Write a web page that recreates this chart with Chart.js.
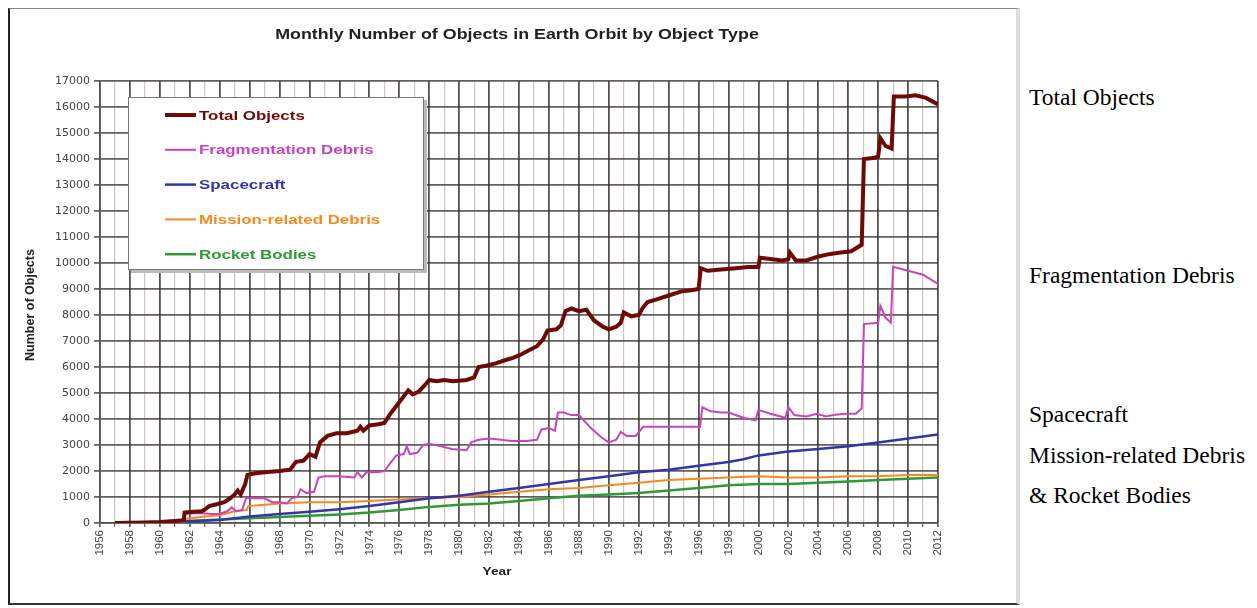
<!DOCTYPE html>
<html>
<head>
<meta charset="utf-8">
<script src="https://cdn.jsdelivr.net/npm/chart.js@4/dist/chart.umd.min.js"></script>
<style>
  html, body { margin: 0; padding: 0; background: #fff; width: 1257px; height: 608px; overflow: hidden; }
  #wrap { position: absolute; left: 0; top: 0; width: 1020px; height: 608px; }
  #frame { position: absolute; left: 8px; top: 8px; width: 1006px; height: 594px;
    border-left: 2px solid #222; border-top: 1px solid #888; border-right: 4px solid #ddd; border-bottom: 2px solid #333; pointer-events: none; }
  .side { position: absolute; left: 1029px; font-family: "Liberation Serif", "Times New Roman", serif; font-size: 23.5px; line-height: 24px; color: #000; white-space: nowrap; }
</style>
</head>
<body>
<div id="wrap"><canvas id="c" width="1020" height="608"></canvas></div>
<div id="frame"></div>
<div class="side" style="top:85px">Total Objects</div>
<div class="side" style="top:263px">Fragmentation Debris</div>
<div class="side" style="top:402px">Spacecraft</div>
<div class="side" style="top:443px">Mission-related Debris</div>
<div class="side" style="top:483px">&amp; Rocket Bodies</div>
<script>
const chartTitle = "Monthly Number of Objects in Earth Orbit by Object Type";
const xTitle = "Year";
const yTitle = "Number of Objects";
const seriesNames = ["Total Objects", "Fragmentation Debris", "Spacecraft", "Mission-related Debris", "Rocket Bodies"];

const totalYears = [1957,1958,1959,1960,1961,1961.6,1961.65,1962,1962.8,1963,1963.3,1963.8,1964.3,1964.7,1965,1965.2,1965.4,1965.7,1965.85,1966.3,1967,1968,1968.7,1969.1,1969.6,1970,1970.4,1970.7,1971.2,1971.8,1972.5,1973.2,1973.4,1973.6,1974,1974.6,1975,1975.4,1975.8,1976.2,1976.6,1976.9,1977.3,1977.7,1978,1978.5,1979,1979.6,1980.5,1981,1981.3,1981.8,1982.5,1983,1983.6,1984.2,1984.7,1985.2,1985.6,1985.9,1986.5,1986.8,1987.1,1987.5,1988,1988.5,1989,1989.6,1990,1990.5,1990.8,1991,1991.5,1992,1992.3,1992.6,1993.2,1994,1994.8,1995.5,1996,1996.15,1996.6,1997.5,1998.5,1999.3,2000,2000.1,2000.8,2001.6,2002,2002.1,2002.5,2003.2,2004,2004.8,2005.5,2006.2,2006.9,2007.05,2007.8,2008,2008.15,2008.5,2008.9,2009.05,2009.8,2010.5,2011.2,2012];
const totalValues = [0,10,20,40,80,110,400,420,450,520,650,720,800,950,1100,1250,1100,1500,1850,1900,1950,2000,2050,2350,2400,2650,2550,3100,3350,3450,3450,3550,3700,3550,3750,3800,3850,4200,4500,4800,5100,4950,5050,5300,5500,5450,5500,5450,5500,5600,6000,6050,6150,6250,6350,6500,6650,6800,7050,7400,7450,7600,8150,8250,8150,8200,7800,7550,7450,7550,7700,8100,7950,8000,8300,8500,8600,8750,8900,8950,9000,9800,9700,9750,9800,9850,9850,10200,10150,10100,10150,10400,10100,10100,10250,10350,10400,10450,10700,14000,14050,14100,14800,14500,14400,16400,16400,16450,16350,16100];

const fragYears = [1957,1961.6,1961.65,1962.5,1963.5,1964,1964.5,1964.8,1965.1,1965.5,1965.75,1966.5,1967,1967.5,1968,1968.5,1968.8,1969.2,1969.4,1969.8,1970.3,1970.6,1971,1972,1973,1973.2,1973.5,1973.8,1974.5,1975,1975.4,1975.8,1976.3,1976.5,1976.7,1977.2,1977.6,1978,1978.8,1979.5,1980.5,1980.8,1981.3,1982,1982.8,1983.5,1984.5,1985.2,1985.5,1986,1986.4,1986.6,1987,1987.5,1988,1988.8,1989.5,1990,1990.5,1990.8,1991.2,1991.8,1992.3,1993,1994,1995,1996.1,1996.25,1996.8,1997.5,1998,1999,1999.8,2000,2000.8,2001.8,2002,2002.4,2003.2,2003.9,2004.5,2005,2005.8,2006.5,2006.9,2007.05,2008,2008.15,2008.5,2008.85,2009,2010,2011,2012];
const fragValues = [0,0,350,380,350,350,450,600,450,500,950,950,950,800,800,750,950,1000,1300,1150,1200,1750,1800,1800,1750,1950,1750,1950,1950,2000,2300,2600,2650,2950,2650,2700,3000,3050,2950,2850,2800,3100,3200,3250,3200,3150,3150,3200,3600,3650,3550,4250,4250,4150,4150,3650,3300,3100,3200,3500,3350,3350,3700,3700,3700,3700,3700,4450,4300,4250,4250,4050,3950,4350,4200,4050,4450,4150,4100,4200,4100,4150,4200,4200,4400,7650,7700,8350,7900,7700,9850,9700,9550,9200];

const scYears = [1957,1960,1962,1964,1966,1968,1970,1972,1974,1976,1978,1980,1982,1984,1986,1988,1990,1992,1994,1996,1998,1999,2000,2002,2004,2006,2008,2010,2012];
const scValues = [0,30,70,120,250,350,430,530,650,800,950,1050,1200,1350,1500,1650,1800,1950,2050,2200,2350,2450,2600,2750,2850,2950,3100,3250,3400];

const mrdYears = [1957,1961,1961.7,1963,1964,1965,1965.8,1965.9,1967,1968,1970,1972,1974,1976,1978,1980,1982,1984,1986,1988,1990,1992,1994,1996,1998,2000,2002,2004,2006,2008,2010,2012];
const mrdValues = [0,40,150,250,300,450,500,650,700,750,800,800,850,900,950,1000,1100,1200,1300,1350,1450,1550,1650,1700,1750,1800,1750,1750,1800,1800,1850,1850];

const rbYears = [1957,1960,1962,1964,1966,1968,1970,1972,1974,1976,1978,1980,1982,1984,1986,1988,1990,1992,1994,1996,1998,2000,2002,2004,2006,2008,2010,2012];
const rbValues = [0,30,80,130,180,230,280,330,400,500,620,700,750,850,950,1050,1100,1150,1250,1350,1450,1500,1500,1550,1600,1650,1700,1750];

const yearMin = 1956, yearMax = 2012;
const yMax = 17000, yStep = 1000;

const colors = ["#6e0a06", "#c843c0", "#3535a8", "#f58a1f", "#2f9a35"];
const widths = [4, 2, 2.5, 2, 2.5];

function pts(xs, ys) { return xs.map((x, i) => ({ x: x, y: ys[i] })); }
const seriesData = [pts(totalYears, totalValues), pts(fragYears, fragValues), pts(scYears, scValues), pts(mrdYears, mrdValues), pts(rbYears, rbValues)];

const decor = {
  id: 'decor',
  afterDatasetsDraw(chart) {
    const ctx = chart.ctx;
    ctx.save();
    ctx.fillStyle = '#bbb';
    ctx.fillRect(131, 100, 296, 173);
    ctx.fillStyle = '#fff';
    ctx.fillRect(128, 97, 296, 173);
    ctx.strokeStyle = '#777';
    ctx.lineWidth = 1;
    ctx.strokeRect(128.5, 97.5, 295, 172);
    chart.data.datasets.forEach((ds, i) => {
      const y = 115 + i * 34.8;
      ctx.strokeStyle = ds.borderColor;
      ctx.lineWidth = ds.borderWidth;
      ctx.beginPath(); ctx.moveTo(165, y); ctx.lineTo(196, y); ctx.stroke();
      ctx.save();
      ctx.translate(199, y);
      ctx.scale(1.3, 1);
      ctx.fillStyle = ds.borderColor;
      ctx.font = 'bold 13px "Liberation Sans", Arial, sans-serif';
      ctx.textBaseline = 'middle';
      ctx.fillText(ds.label, 0, 1);
      ctx.restore();
    });
    ctx.restore();
  },
  afterDraw(chart) {
    const ctx = chart.ctx;
    ctx.save();
    ctx.fillStyle = '#222';
    ctx.textAlign = 'center';
    ctx.textBaseline = 'middle';
    ctx.save();
    ctx.translate(517, 35);
    ctx.scale(1.19, 1);
    ctx.font = 'bold 15px "Liberation Sans", Arial, sans-serif';
    ctx.fillText(chartTitle, 0, 0);
    ctx.restore();
    ctx.save();
    ctx.translate(497, 572);
    ctx.scale(1.25, 1);
    ctx.font = 'bold 11px "Liberation Sans", Arial, sans-serif';
    ctx.fillText(xTitle, 0, 0);
    ctx.restore();
    ctx.save();
    ctx.translate(31, 305);
    ctx.rotate(-Math.PI / 2);
    ctx.font = 'bold 12.5px "Liberation Sans", Arial, sans-serif';
    ctx.fillText(yTitle, 0, 0);
    ctx.restore();
    ctx.restore();
  }
};

new Chart(document.getElementById('c'), {
  type: 'line',
  data: {
    datasets: seriesNames.map((name, i) => ({
      label: name,
      data: seriesData[i],
      borderColor: colors[i],
      backgroundColor: colors[i],
      borderWidth: widths[i],
      pointRadius: 0,
      tension: 0,
      fill: false
    }))
  },
  options: {
    responsive: false,
    animation: false,
    layout: { padding: { left: 0, right: 82, top: 81, bottom: 0 } },
    plugins: { legend: { display: false }, title: { display: false }, tooltip: { enabled: false } },
    scales: {
      x: {
        type: 'linear',
        min: yearMin, max: yearMax,
        afterFit: (s) => { s.height = 85; },
        ticks: {
          stepSize: 1, autoSkip: false, minRotation: 90, maxRotation: 90,
          padding: 3,
          color: '#444',
          font: { family: '"Liberation Sans", Arial, sans-serif', size: 11.5 },
          callback: (v) => (v % 2 === 0 ? String(v) : '')
        },
        grid: {
          color: (c) => (c.tick && c.tick.value % 2 === 0 ? 'rgba(55,50,50,0.85)' : 'rgba(195,175,175,0.75)'),
          lineWidth: (c) => (c.tick && c.tick.value % 2 === 0 ? 1.8 : 1.2),
          tickLength: 4,
          tickColor: '#666'
        },
        border: { color: '#555', width: 1.5 }
      },
      y: {
        min: 0, max: yMax,
        afterFit: (s) => { s.width = 100; },
        ticks: {
          stepSize: yStep,
          padding: 4,
          color: '#444',
          font: { family: '"DejaVu Sans", sans-serif', size: 11 },
          callback: (v) => String(v)
        },
        grid: { color: 'rgba(60,55,55,0.8)', lineWidth: 1.8, tickLength: 6, tickColor: '#666' },
        border: { color: '#555', width: 1.5 }
      }
    }
  },
  plugins: [decor]
});
</script>
</body>
</html>
